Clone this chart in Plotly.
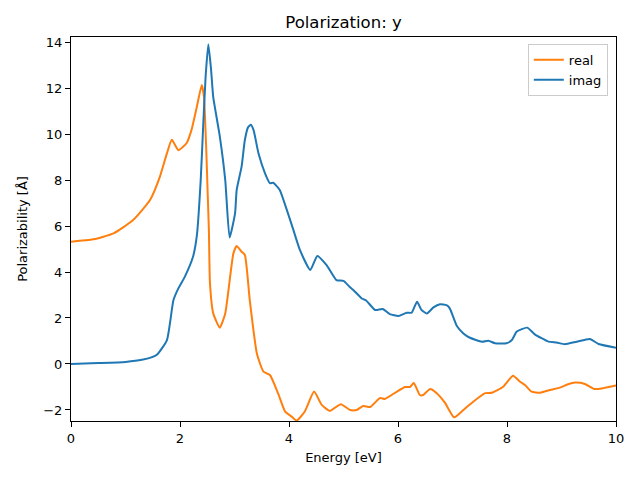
import plotly.graph_objects as go

# Real part (orange)
real_E = [0.0, 0.41, 0.78, 1.14, 1.45, 1.63, 1.76, 1.85, 1.97, 2.12, 2.21, 2.31, 2.40,
          2.44, 2.48, 2.51, 2.53, 2.55, 2.61, 2.73, 2.83, 2.92, 2.98, 3.04, 3.13, 3.19, 3.28,
          3.41, 3.53, 3.65, 3.80, 3.93, 4.05, 4.14, 4.29, 4.46, 4.60, 4.75, 4.95, 5.12, 5.24,
          5.36, 5.49, 5.67, 5.76, 5.98, 6.13, 6.22, 6.29, 6.40, 6.46, 6.59, 6.71, 6.86, 7.03,
          7.20, 7.38, 7.60, 7.72, 7.93, 8.11, 8.24, 8.33, 8.45, 8.61, 8.79, 8.97, 9.12, 9.25,
          9.43, 9.61, 9.77, 10.0]
real_V = [5.32, 5.42, 5.68, 6.26, 7.13, 8.14, 9.16, 9.75, 9.3, 9.6, 10.17, 11.2, 12.13,
          11.6, 9.45, 7.27, 5.83, 3.5, 2.2, 1.58, 2.2, 3.8, 4.81, 5.13, 4.88, 4.74, 2.78,
          0.46, -0.33, -0.48, -1.28, -2.07, -2.29, -2.46, -2.07, -1.2, -1.78, -2.04, -1.75, -2.0, -2.0,
          -1.83, -1.87, -1.48, -1.52, -1.2, -1.0, -1.0, -0.83, -1.35, -1.35, -1.09, -1.27, -1.68, -2.32,
          -2.0, -1.64, -1.27, -1.25, -0.99, -0.51, -0.77, -0.91, -1.2, -1.25, -1.13, -1.03, -0.88, -0.81,
          -0.87, -1.09, -1.05, -0.94]

# Imaginary part (blue)
imag_E = [0.0, 0.5, 1.0, 1.3, 1.57, 1.76, 1.88, 1.97, 2.09, 2.24, 2.31, 2.38, 2.43, 2.47, 2.52,
          2.57, 2.61, 2.73, 2.83, 2.91, 3.01, 3.04, 3.13, 3.19, 3.25, 3.30, 3.35, 3.44, 3.56,
          3.65, 3.71, 3.83, 3.96, 4.08, 4.20, 4.39, 4.52, 4.69, 4.87, 5.0, 5.11, 5.18, 5.33,
          5.42, 5.58, 5.72, 5.85, 6.01, 6.16, 6.25, 6.35, 6.43, 6.53, 6.65, 6.77, 6.89, 6.95,
          7.08, 7.20, 7.32, 7.54, 7.66, 7.78, 7.99, 8.09, 8.18, 8.37, 8.51, 8.76, 8.91, 9.06,
          9.28, 9.52, 9.68, 10.0]
imag_V = [0.0, 0.04, 0.09, 0.18, 0.39, 1.04, 2.78, 3.29, 3.8, 4.67, 5.6, 8.0, 10.6, 12.5, 13.9,
          12.8, 11.6, 9.9, 8.0, 5.5, 6.55, 7.57, 8.58, 9.74, 10.3, 10.4, 10.17, 9.16, 8.29,
          7.86, 7.88, 7.57, 6.7, 5.83, 4.96, 4.09, 4.7, 4.3, 3.65, 3.61, 3.36, 3.22, 2.86,
          2.75, 2.35, 2.39, 2.17, 2.09, 2.23, 2.23, 2.71, 2.35, 2.2, 2.46, 2.6, 2.56, 2.42,
          1.65, 1.33, 1.14, 0.97, 1.01, 0.9, 0.9, 1.04, 1.41, 1.58, 1.29, 0.97, 0.93, 0.86,
          0.97, 1.09, 0.87, 0.71]

x_ticks = [0, 2, 4, 6, 8, 10]
y_ticks = [-2, 0, 2, 4, 6, 8, 10, 12, 14]

font = "DejaVu Sans"
fig = go.Figure()
fig.add_trace(go.Scatter(x=real_E, y=real_V, mode="lines", name="real",
                         line=dict(color="#ff7f0e", width=2, shape="spline", smoothing=0.5)))
fig.add_trace(go.Scatter(x=imag_E, y=imag_V, mode="lines", name="imag",
                         line=dict(color="#1f77b4", width=2, shape="spline", smoothing=0.5)))

axis_common = dict(showline=True, linecolor="black", linewidth=1, mirror=True,
                   ticks="outside", ticklen=5, tickwidth=1, tickcolor="black",
                   showgrid=False, zeroline=False, automargin=False,
                   tickfont=dict(family=font, size=13, color="black"))
# The page body adds an 8px offset, so margins are shifted to compensate.
fig.update_layout(
    width=640, height=480,
    margin=dict(l=63, r=32, t=29, b=67, autoexpand=False),
    paper_bgcolor="white", plot_bgcolor="white",
    title=dict(text="Polarization: y", x=(63 + 608) / 2 / 640, xanchor="center", y=1 - 14 / 480, yanchor="middle",
               font=dict(family=font, size=16.5, color="black")),
    xaxis=dict(range=[0, 10], tickvals=x_ticks,
               title=dict(text="Energy [eV]", font=dict(family=font, size=13, color="black"), standoff=8),
               **axis_common),
    yaxis=dict(range=[-2.48, 14.22], tickvals=y_ticks,
               title=dict(text="Polarizability [Å]", font=dict(family=font, size=13, color="black"), standoff=12),
               **axis_common),
    legend=dict(x=0.985, y=0.982, xanchor="right", yanchor="top",
                bordercolor="#cccccc", borderwidth=1, bgcolor="rgba(255,255,255,0.8)",
                font=dict(family=font, size=13, color="black")),
    showlegend=True,
)
fig.write_html("out.html")
